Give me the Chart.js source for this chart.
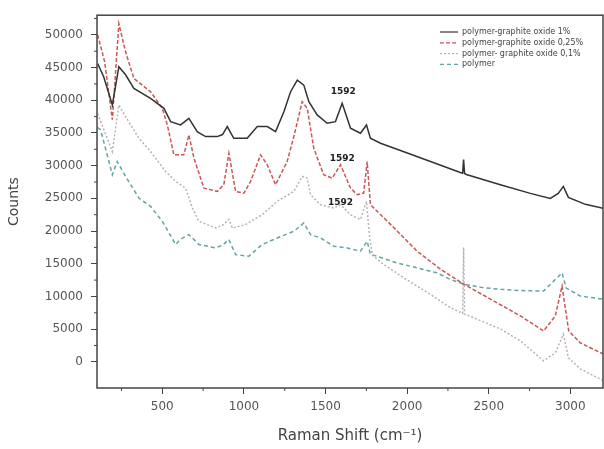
<!DOCTYPE html>
<html>
<head>
<meta charset="utf-8">
<script src="https://cdn.jsdelivr.net/npm/chart.js@4"></script>
<style>
    html, body { margin: 0; padding: 0; background: #fff; }
</style>
</head>
<body>
<canvas id="raman_chart" width="604" height="449"></canvas>
<script>
// series names (legend)
var seriesNames = ['polymer-graphite oxide 1%', 'polymer-graphite oxide 0,25%', 'polymer- graphite oxide 0,1%', 'polymer'];

// tick labels
var xTickValues = [500, 1000, 1500, 2000, 2500, 3000];
var yTickValues = [0, 5000, 10000, 15000, 20000, 25000, 30000, 35000, 40000, 45000, 50000];

// polymer-graphite oxide 1%
var shift1 = [104,141,194,234,275,326,428,510,551,612,663,714,765,837,869,898,938,1020,1082,1143,1194,1245,1286,1327,1367,1398,1449,1510,1561,1602,1653,1714,1751,1775,1837,1959,2143,2326,2340,2346,2352,2363,2571,2755,2877,2926,2957,2988,3092,3204];
var counts1 = [45600,43590,39270,45110,43890,41800,40280,38760,36730,36220,37230,35200,34440,34440,34750,35970,34180,34180,35970,35970,35200,38250,41300,43080,42310,39780,37750,36470,36730,39520,35710,34950,36220,34180,33420,32310,30630,28960,28850,30940,28800,28650,27080,25760,24990,25760,26820,25150,24080,23470];

// polymer-graphite oxide 0,25%
var shift2 = [104,147,194,234,275,326,428,500,531,571,632,663,694,755,837,877,908,949,1000,1041,1102,1143,1194,1265,1306,1357,1388,1428,1489,1541,1592,1653,1694,1734,1755,1775,1910,2061,2204,2346,2510,2694,2836,2908,2949,2990,3061,3204];
var counts2 = [49990,45870,37030,51710,47400,43330,41300,38760,36220,31650,31650,34700,31130,26560,26060,27080,31900,26060,25800,27580,31650,30130,27080,30630,34440,39780,38760,32660,28600,28090,30130,26560,25560,25800,30630,24030,20730,16920,14170,11890,9600,7010,4720,7010,11580,4720,2900,1170];

// polymer- graphite oxide 0,1%
var shift3 = [104,194,234,275,357,428,520,582,643,684,724,826,869,908,929,1010,1112,1204,1306,1357,1388,1408,1469,1551,1592,1653,1714,1751,1768,1787,1850,1979,2143,2265,2340,2346,2352,2450,2571,2694,2836,2908,2957,2988,3061,3204];
var counts3 = [37950,32160,39270,37490,34180,32160,29110,27580,26560,23520,21490,20470,20880,21800,20470,20980,22500,24540,26060,28350,28090,25560,24030,23520,24030,22500,21750,24540,19500,16300,15000,12850,10300,8280,7400,17500,7300,6300,5030,3200,150,1370,4220,610,-1070,-2900];

// polymer
var shift4 = [104,122,194,224,275,357,428,500,582,612,663,724,826,869,908,949,1030,1112,1204,1306,1367,1408,1469,1551,1633,1714,1755,1775,1938,2182,2265,2346,2449,2571,2694,2836,2949,2975,3061,3204];
var counts4 = [35810,35510,28600,30630,28350,25040,23770,21490,17940,18750,19460,17940,17420,17830,18700,16410,16150,17940,18940,19960,21230,19460,18940,17680,17420,16920,18440,16460,15130,13610,12600,11890,11400,11080,10900,10820,13610,11280,10060,9560];

// peak annotations
var peakText = ['1592', '1592', '1592'];
var peakShift = [1609, 1602, 1592];
var peakCounts = [41300, 31130, 24280];

function toPoints(xs, ys) {
    return xs.map(function(x, i) { return {x: x, y: ys[i]}; });
}

var lineColors = ['#333333', 'rgb(205,85,85)', 'rgb(188,176,180)', 'rgb(95,165,165)'];
var lineDashes = [[], [4, 2], [2, 2], [4, 3]];

// box round the plot + minor ticks
var framePlugin = {
    id: 'frame',
    afterDraw: function(chart) {
        var ctx = chart.ctx, a = chart.chartArea;
        var xs = chart.scales.x, ys = chart.scales.y;
        ctx.save();
        ctx.strokeStyle = '#444';
        ctx.lineWidth = 1.5;
        ctx.strokeRect(a.left, a.top, a.right - a.left, a.bottom - a.top);
        ctx.lineWidth = 1;
        ctx.beginPath();
        for (var v = 250; v < xs.max; v += 500) {
            if (v < xs.min) continue;
            var px = xs.getPixelForValue(v);
            ctx.moveTo(px, a.bottom);
            ctx.lineTo(px, a.bottom + 3);
        }
        for (var w = 2500; w < ys.max; w += 5000) {
            var py = ys.getPixelForValue(w);
            ctx.moveTo(a.left, py);
            ctx.lineTo(a.left - 3, py);
        }
        ctx.stroke();
        ctx.restore();
    }
};

// legend inside the plot
var legendPlugin = {
    id: 'innerLegend',
    afterDraw: function(chart) {
        var ctx = chart.ctx;
        ctx.save();
        ctx.font = '8px "DejaVu Sans"';
        ctx.textBaseline = 'middle';
        chart.data.datasets.forEach(function(ds, i) {
            var y = 32 + i * 10.8;
            ctx.strokeStyle = ds.borderColor;
            ctx.lineWidth = 1.2;
            ctx.setLineDash(ds.borderDash || []);
            ctx.beginPath();
            ctx.moveTo(440, y);
            ctx.lineTo(458, y);
            ctx.stroke();
            ctx.setLineDash([]);
            ctx.fillStyle = '#444';
            ctx.fillText(ds.label, 462, y);
        });
        ctx.restore();
    }
};

// "1592" labels
var peakPlugin = {
    id: 'peaks',
    afterDatasetsDraw: function(chart) {
        var ctx = chart.ctx, xs = chart.scales.x, ys = chart.scales.y;
        ctx.save();
        ctx.font = 'bold 9px "DejaVu Sans"';
        ctx.fillStyle = '#222';
        ctx.textAlign = 'center';
        ctx.textBaseline = 'middle';
        peakText.forEach(function(t, i) {
            ctx.fillText(t, xs.getPixelForValue(peakShift[i]), ys.getPixelForValue(peakCounts[i]));
        });
        ctx.restore();
    }
};

var allShift = [shift1, shift2, shift3, shift4];
var allCounts = [counts1, counts2, counts3, counts4];

var ctxRaman = document.getElementById('raman_chart');
var chartRaman = new Chart(ctxRaman, {
    type: 'line',
    data: {
        datasets: seriesNames.map(function(name, i) {
            return {
                label: name,
                data: toPoints(allShift[i], allCounts[i]),
                borderColor: lineColors[i],
                borderDash: lineDashes[i],
                borderWidth: 1.5,
                pointRadius: 0,
                tension: 0,
                fill: false,
                order: i
            };
        })
    },
    options: {
        responsive: false,
        animation: false,
        layout: { padding: { top: 15, right: 1, left: 0, bottom: 0 } },
        plugins: {
            legend: { display: false },
            tooltip: { enabled: false }
        },
        scales: {
            x: {
                type: 'linear',
                min: 100,
                max: 3200,
                grid: { display: true, drawOnChartArea: false, drawTicks: true, tickLength: 6, color: '#444' },
                border: { display: false },
                afterBuildTicks: function(scale) {
                    scale.ticks = xTickValues.map(function(v) { return {value: v}; });
                },
                ticks: {
                    padding: 6,
                    color: '#555',
                    font: { family: 'DejaVu Sans', size: 12 },
                    maxRotation: 0,
                    autoSkip: false,
                    callback: function(value) { return String(value); }
                },
                title: {
                    display: true,
                    text: 'Raman Shift (cm\u207B\u00B9)',
                    color: '#444',
                    font: { family: 'DejaVu Sans', size: 15 },
                    padding: { top: 0, bottom: 4 }
                },
                afterFit: function(scale) { scale.height = 61; }
            },
            y: {
                min: -4000,
                max: 53000,
                grid: { display: true, drawOnChartArea: false, drawTicks: true, tickLength: 6, color: '#444' },
                border: { display: false },
                afterBuildTicks: function(scale) {
                    scale.ticks = yTickValues.map(function(v) { return {value: v}; });
                },
                ticks: {
                    padding: 8,
                    color: '#555',
                    autoSkip: false,
                    font: { family: 'DejaVu Sans', size: 12 },
                    callback: function(value) { return String(value); }
                },
                title: {
                    display: true,
                    text: 'Counts',
                    color: '#444',
                    font: { family: 'DejaVu Sans', size: 14 },
                    padding: { top: 6, bottom: 0 }
                },
                afterFit: function(scale) { scale.width = 97; }
            }
        }
    },
    plugins: [framePlugin, legendPlugin, peakPlugin]
});
</script>
</body>
</html>
